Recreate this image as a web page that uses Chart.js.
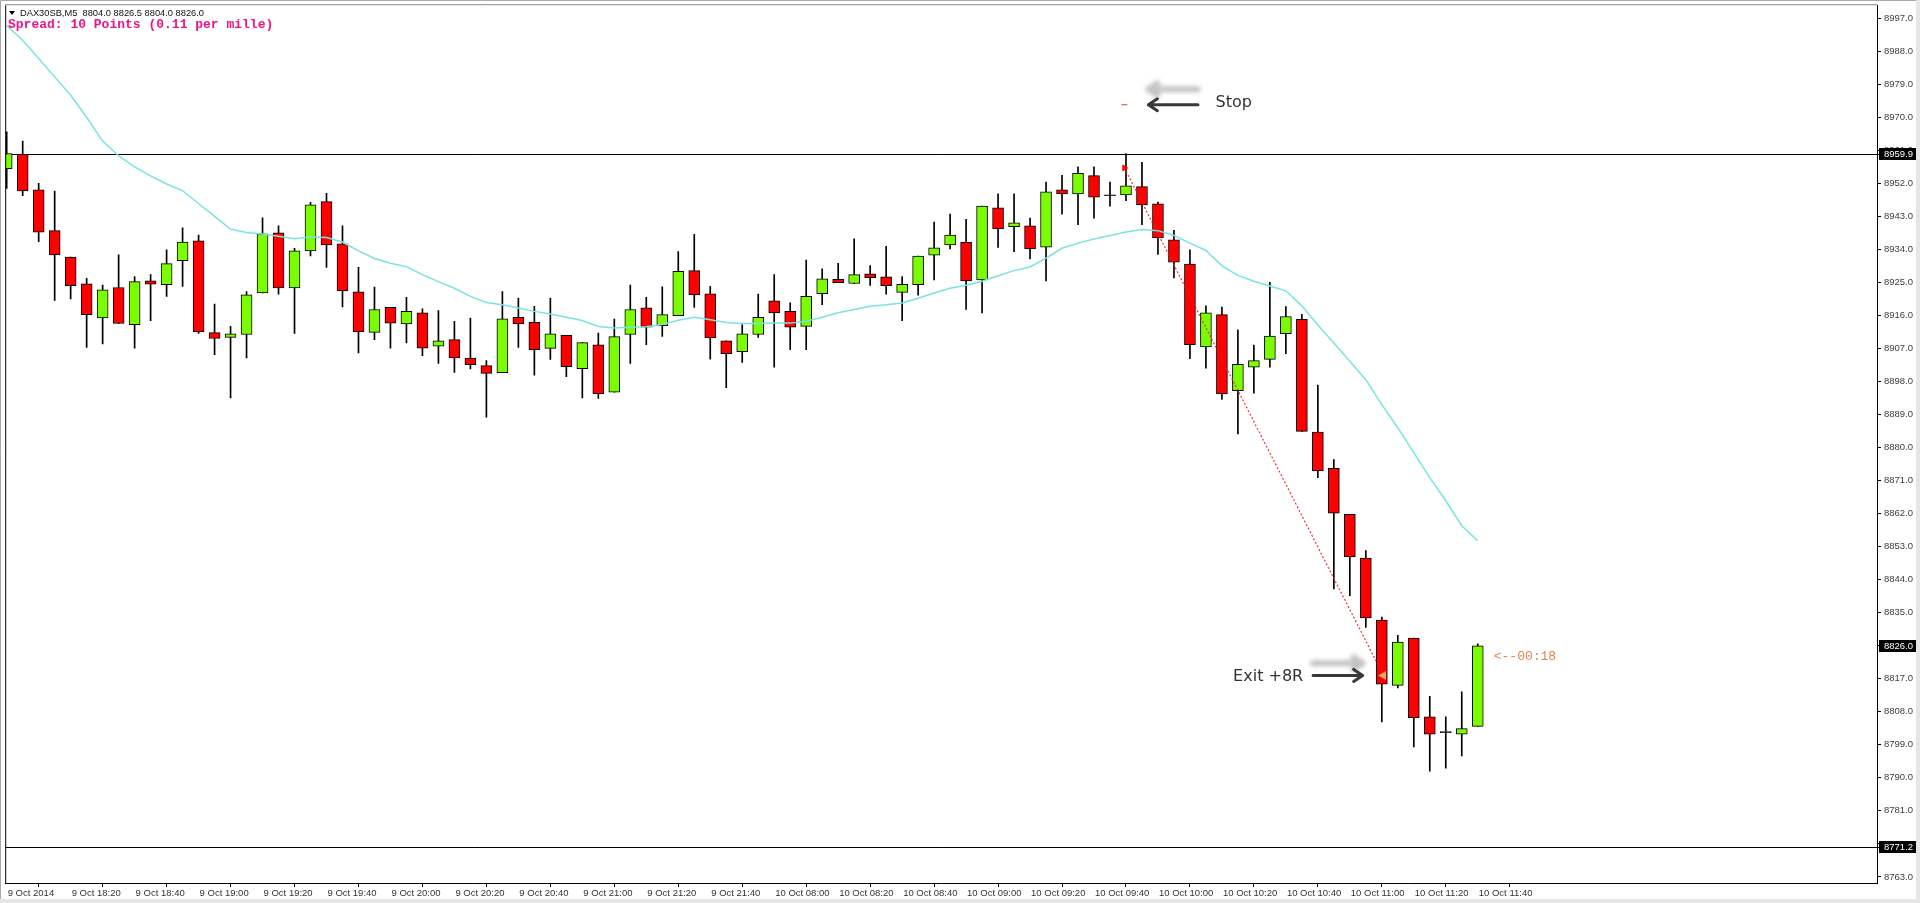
<!DOCTYPE html>
<html>
<head>
<meta charset="utf-8">
<title>DAX30SB,M5</title>
<script src="https://cdn.jsdelivr.net/npm/chart.js@4.4.1/dist/chart.umd.min.js"></script>
<style>
  html, body { margin: 0; padding: 0; background: #fff; overflow: hidden; }
  canvas { display: block; }
</style>
</head>
<body>
<canvas id="chart" width="1920" height="903"></canvas>
<script>
// DAX30SB M5 candles, 9 Oct 18:00 -> 10 Oct 11:40
const opens = [8956.0, 8959.9, 8950.2, 8939.1, 8931.9, 8924.6, 8915.3, 8923.6, 8913.5, 8925.4,
  8924.4, 8930.9, 8936.3, 8911.3, 8910.0, 8910.8, 8922.1, 8938.5, 8923.5, 8933.6,
  8947.0, 8935.5, 8922.4, 8911.4, 8918.2, 8913.7, 8916.7, 8907.6, 8909.4, 8904.4,
  8902.3, 8900.4, 8915.5, 8914.1, 8907.0, 8910.6, 8901.5, 8908.0, 8895.1, 8910.8,
  8918.1, 8913.2, 8915.9, 8928.2, 8921.9, 8909.1, 8906.1, 8910.8, 8920.0, 8917.1,
  8913.0, 8921.9, 8925.8, 8924.7, 8927.3, 8926.5, 8922.3, 8924.4, 8932.4, 8935.2,
  8935.9, 8925.7, 8945.3, 8940.2, 8940.4, 8934.6, 8950.2, 8949.1, 8954.1, 8948.6,
  8948.8, 8951.1, 8946.4, 8936.6, 8930.0, 8907.4, 8916.2, 8895.5, 8901.9, 8904.0,
  8911.0, 8914.9, 8884.2, 8874.3, 8861.8, 8849.9, 8833.0, 8815.2, 8828.1, 8806.6,
  8802.3, 8801.9, 8804.0];
const highs = [8966.0, 8963.5, 8952.0, 8949.9, 8931.9, 8926.1, 8924.3, 8932.5, 8926.6, 8927.1,
  8933.9, 8939.9, 8937.9, 8919.1, 8913.0, 8922.5, 8942.6, 8940.4, 8934.3, 8946.8,
  8949.3, 8940.4, 8929.1, 8923.7, 8918.2, 8920.9, 8917.8, 8917.3, 8914.4, 8915.3,
  8903.7, 8922.5, 8920.7, 8918.5, 8920.7, 8910.6, 8908.6, 8911.2, 8915.0, 8924.3,
  8920.9, 8923.8, 8933.4, 8938.1, 8923.9, 8909.1, 8913.5, 8921.8, 8927.1, 8919.4,
  8931.1, 8928.7, 8930.2, 8936.9, 8929.6, 8934.8, 8926.6, 8932.2, 8941.4, 8943.6,
  8942.2, 8945.8, 8949.1, 8949.1, 8942.5, 8952.3, 8954.2, 8956.5, 8956.5, 8952.3,
  8960.1, 8957.7, 8946.9, 8939.2, 8933.9, 8918.6, 8918.3, 8912.1, 8907.9, 8925.0,
  8918.4, 8916.3, 8897.0, 8876.7, 8861.8, 8851.9, 8833.8, 8828.8, 8828.1, 8812.2,
  8806.6, 8813.4, 8826.5];
const lows = [8950.6, 8948.6, 8936.1, 8920.1, 8920.5, 8907.3, 8908.2, 8913.8, 8907.1, 8914.6,
  8921.2, 8923.9, 8911.1, 8905.3, 8893.5, 8904.4, 8922.1, 8921.8, 8911.1, 8932.2,
  8929.1, 8918.3, 8905.8, 8909.4, 8907.1, 8908.5, 8905.0, 8902.9, 8900.5, 8901.4,
  8888.3, 8900.4, 8907.3, 8899.7, 8904.0, 8899.3, 8893.5, 8893.4, 8895.1, 8902.9,
  8908.0, 8910.3, 8915.9, 8918.2, 8904.1, 8896.3, 8903.2, 8910.0, 8901.9, 8906.7,
  8906.7, 8918.9, 8924.9, 8924.7, 8924.2, 8921.8, 8914.6, 8921.5, 8925.7, 8934.1,
  8917.6, 8916.7, 8934.5, 8933.4, 8931.4, 8925.4, 8943.6, 8940.7, 8942.5, 8945.8,
  8947.3, 8940.7, 8932.6, 8926.2, 8904.2, 8901.6, 8893.1, 8883.7, 8894.8, 8901.9,
  8905.6, 8884.4, 8871.8, 8841.5, 8839.6, 8831.0, 8805.2, 8814.5, 8798.4, 8791.8,
  8792.6, 8796.0, 8804.0];
const closes = [8960.1, 8949.9, 8938.7, 8932.5, 8924.1, 8916.2, 8923.0, 8913.8, 8925.2, 8924.5,
  8930.1, 8936.0, 8911.5, 8909.7, 8911.0, 8921.6, 8938.2, 8923.5, 8933.6, 8946.1,
  8935.2, 8922.7, 8911.5, 8917.6, 8913.9, 8917.1, 8907.1, 8909.1, 8904.4, 8902.6,
  8900.2, 8915.1, 8913.7, 8906.7, 8911.0, 8902.0, 8908.6, 8894.7, 8910.2, 8917.6,
  8912.8, 8916.2, 8928.0, 8921.6, 8909.9, 8905.6, 8911.0, 8915.5, 8916.7, 8912.8,
  8921.2, 8926.0, 8924.9, 8927.1, 8926.3, 8924.1, 8924.5, 8932.2, 8934.4, 8937.9,
  8925.4, 8945.8, 8939.6, 8941.2, 8934.1, 8949.7, 8949.1, 8954.7, 8948.2, 8948.6,
  8951.3, 8946.1, 8937.1, 8930.5, 8908.0, 8916.7, 8894.6, 8902.7, 8903.7, 8910.4,
  8915.7, 8884.4, 8873.6, 8862.1, 8850.2, 8833.6, 8815.5, 8827.0, 8806.4, 8801.9,
  8802.3, 8803.4, 8826.0];
// moving average (cyan line)
const ma = [8995.0, 8991.0, 8986.0, 8981.0, 8976.0, 8970.0, 8963.5, 8959.5, 8956.5, 8954.0,
  8951.8, 8950.0, 8946.5, 8943.0, 8939.5, 8938.6, 8938.2, 8937.6, 8936.9, 8937.4,
  8937.2, 8936.0, 8933.6, 8931.5, 8930.2, 8929.3, 8927.1, 8925.2, 8923.4, 8921.2,
  8919.5, 8918.9, 8918.0, 8917.1, 8916.4, 8915.5, 8914.6, 8913.0, 8912.6, 8912.8,
  8912.9, 8913.5, 8914.7, 8915.5, 8914.8, 8914.1, 8913.8, 8913.8, 8913.9, 8913.9,
  8914.4, 8915.5, 8916.7, 8917.6, 8918.5, 8918.9, 8919.4, 8920.7, 8922.1, 8923.4,
  8924.2, 8925.3, 8926.8, 8928.2, 8929.2, 8931.6, 8934.3, 8935.7, 8936.8, 8937.8,
  8938.7, 8939.4, 8939.1, 8937.8, 8935.7, 8933.7, 8929.5, 8926.9, 8925.3, 8924.0,
  8922.7, 8918.6, 8913.4, 8908.5, 8903.5, 8898.5, 8891.7, 8885.4, 8878.6, 8871.8,
  8865.5, 8858.7, 8854.6];

// trade: entry / exit (bar position, price) and stop level
const tradeX = [69.9, 86.1];
const tradeY = [8956.2, 8817.9];
const stopX = [69.9];
const stopY = [8973.4];

// axis ticks
const xTickPos = [0, 4, 8, 12, 16, 20, 24, 28, 32, 36, 40, 44, 48, 52, 56, 60, 64, 68, 72, 76, 80, 84, 88, 92];
const xLabels = ['9 Oct 2014', '9 Oct 18:20', '9 Oct 18:40', '9 Oct 19:00', '9 Oct 19:20', '9 Oct 19:40',
  '9 Oct 20:00', '9 Oct 20:20', '9 Oct 20:40', '9 Oct 21:00', '9 Oct 21:20', '9 Oct 21:40',
  '10 Oct 08:00', '10 Oct 08:20', '10 Oct 08:40', '10 Oct 09:00', '10 Oct 09:20', '10 Oct 09:40',
  '10 Oct 10:00', '10 Oct 10:20', '10 Oct 10:40', '10 Oct 11:00', '10 Oct 11:20', '10 Oct 11:40'];
const yTicks = [8763, 8772, 8781, 8790, 8799, 8808, 8817, 8826, 8835, 8844, 8853, 8862, 8871, 8880,
  8889, 8898, 8907, 8916, 8925, 8934, 8943, 8952, 8961, 8970, 8979, 8988, 8997];
const hLines = [8959.9, 8771.2];
const lastPrice = 8826.0;

const GREEN = '#7cfc00', RED = '#ff0000';

const X_MIN = -0.09375;
const X_MAX = X_MIN + 1873 / 16;

const bodies = opens.map((o, i) => ({ x: i, y: [o, closes[i]] }));
const wicks = lows.map((l, i) => ({ x: i, y: [l, highs[i]] }));

function bodyColor(ctx) {
  const i = ctx.dataIndex;
  if (closes[i] > opens[i]) return GREEN;
  if (closes[i] < opens[i]) return RED;
  return '#000';
}

// no extra room for first/last tick labels, keep the plot box fixed
function noPad(s) {
  s.paddingTop = 0; s.paddingBottom = 0; s.paddingLeft = 0; s.paddingRight = 0;
}

// arrow helper
function arrow(ctx, x1, x2, y, color, w) {
  const dir = x2 > x1 ? 1 : -1;
  ctx.save();
  ctx.strokeStyle = color;
  ctx.lineWidth = w;
  ctx.lineCap = 'round';
  ctx.lineJoin = 'round';
  ctx.beginPath();
  ctx.moveTo(x1, y);
  ctx.lineTo(x2, y);
  ctx.moveTo(x2 - dir * 9, y - 6);
  ctx.lineTo(x2, y);
  ctx.lineTo(x2 - dir * 9, y + 6);
  ctx.stroke();
  ctx.restore();
}

const mt4Plugin = {
  id: 'mt4',
  beforeDatasetsDraw(chart) {
    const { ctx, chartArea, scales } = chart;
    ctx.save();
    ctx.strokeStyle = '#000';
    ctx.lineWidth = 1;
    hLines.forEach(p => {
      const y = Math.round(scales.y.getPixelForValue(p)) + 0.5;
      ctx.beginPath();
      ctx.moveTo(chartArea.left, y);
      ctx.lineTo(chartArea.right + 4, y);
      ctx.stroke();
    });
    ctx.restore();
  },
  afterDraw(chart) {
    const { ctx, chartArea, scales } = chart;
    const xs = scales.x, ys = scales.y;
    ctx.save();

    // plot frame (left / top)
    ctx.strokeStyle = '#000';
    ctx.lineWidth = 1;
    ctx.beginPath();
    ctx.moveTo(chartArea.left + 0.5, chartArea.bottom);
    ctx.lineTo(chartArea.left + 0.5, chartArea.top);
    ctx.stroke();
    ctx.strokeStyle = '#8a8a8a';
    ctx.beginPath();
    ctx.moveTo(chartArea.left, chartArea.top - 0.5);
    ctx.lineTo(chartArea.right, chartArea.top - 0.5);
    ctx.stroke();

    // window border
    ctx.strokeStyle = '#a9a9a9';
    ctx.beginPath();
    ctx.moveTo(0.5, 903); ctx.lineTo(0.5, 0.5); ctx.lineTo(1920, 0.5);
    ctx.stroke();
    ctx.strokeStyle = '#e6e6e6';
    ctx.lineWidth = 4;
    ctx.beginPath();
    ctx.moveTo(1918, 0); ctx.lineTo(1918, 901); ctx.lineTo(0, 901);
    ctx.stroke();

    // header
    ctx.fillStyle = '#000';
    ctx.beginPath();
    ctx.moveTo(9, 11); ctx.lineTo(15, 11); ctx.lineTo(12, 15); ctx.closePath();
    ctx.fill();
    ctx.font = '9.3px "Liberation Sans"';
    ctx.textBaseline = 'middle';
    ctx.textAlign = 'left';
    ctx.fillStyle = '#111';
    ctx.fillText('DAX30SB,M5  8804.0 8826.5 8804.0 8826.0', 20, 13);
    ctx.font = 'bold 13px "Liberation Mono"';
    ctx.fillStyle = '#e8168a';
    ctx.fillText('Spread: 10 Points (0.11 per mille)', 8, 25);

    // stop annotation
    const sx1 = xs.getPixelForValue(74.5), sx2 = xs.getPixelForValue(71.4);
    ctx.save();
    ctx.filter = 'blur(2px)';
    arrow(ctx, sx1, sx2, ys.getPixelForValue(8977.6), 'rgba(175,175,175,0.75)', 6);
    ctx.restore();
    arrow(ctx, sx1, sx2, ys.getPixelForValue(8973.4), '#383838', 3);
    ctx.font = '16px "DejaVu Sans"';
    ctx.fillStyle = '#333';
    ctx.textBaseline = 'middle';
    ctx.fillText('Stop', xs.getPixelForValue(75.6), ys.getPixelForValue(8974.0));

    // exit annotation
    const ex1 = xs.getPixelForValue(81.7), ex2 = xs.getPixelForValue(84.8);
    ctx.save();
    ctx.filter = 'blur(2px)';
    arrow(ctx, ex1, ex2, ys.getPixelForValue(8821.2), 'rgba(175,175,175,0.75)', 6);
    ctx.restore();
    arrow(ctx, ex1, ex2, ys.getPixelForValue(8817.9), '#383838', 3);
    ctx.fillStyle = '#333';
    ctx.fillText('Exit +8R', xs.getPixelForValue(76.7), ys.getPixelForValue(8817.4));

    // candle timer
    ctx.font = '13px "Liberation Mono"';
    ctx.fillStyle = '#e0824e';
    ctx.fillText('<--00:18', xs.getPixelForValue(93.0), ys.getPixelForValue(8823.1));

    // price boxes on the axis
    ctx.font = '9.5px "Liberation Sans"';
    [hLines[0], lastPrice, hLines[1]].forEach(p => {
      const y = Math.round(ys.getPixelForValue(p));
      ctx.fillStyle = '#000';
      ctx.fillRect(1879, y - 6, 37, 12);
      ctx.fillStyle = '#fff';
      ctx.fillText(p.toFixed(1), 1884, y + 0.5);
    });
    ctx.restore();
  }
};

Chart.defaults.font.family = '"Liberation Sans", sans-serif';

new Chart(document.getElementById('chart'), {
  type: 'bar',
  data: {
    datasets: [
      {
        type: 'line',
        data: tradeX.map((x, i) => ({ x, y: tradeY[i] })),
        borderColor: 'rgba(235,30,30,0.9)',
        borderWidth: 1.2,
        borderDash: [2, 2],
        pointStyle: 'triangle',
        pointRotation: [90, -90],
        pointRadius: [3, 4],
        pointBackgroundColor: ['#ff0000', '#f4a460'],
        pointBorderColor: ['#ff0000', '#f4a460'],
        order: 0
      },
      {
        type: 'line',
        data: stopX.map((x, i) => ({ x, y: stopY[i] })),
        showLine: false,
        pointStyle: 'line',
        pointRadius: 3,
        pointBorderColor: '#ff3030',
        pointBorderWidth: 1,
        order: 0
      },
      {
        type: 'line',
        data: ma.map((v, i) => ({ x: i, y: v })),
        borderColor: '#79e3e3',
        borderWidth: 1.5,
        pointRadius: 0,
        tension: 0,
        order: 1
      },
      {
        data: bodies,
        backgroundColor: bodyColor,
        borderColor: '#000',
        borderWidth: 1,
        borderSkipped: false,
        barThickness: 11,
        minBarLength: 1,
        grouped: false,
        order: 2
      },
      {
        data: wicks,
        backgroundColor: '#000',
        borderWidth: 0,
        barThickness: 1,
        grouped: false,
        order: 3
      }
    ]
  },
  options: {
    responsive: false,
    animation: false,
    devicePixelRatio: 1,
    layout: { padding: { left: 4, top: 3, right: 0, bottom: 0 } },
    plugins: { legend: { display: false }, tooltip: { enabled: false } },
    scales: {
      x: {
        type: 'linear',
        min: X_MIN,
        max: X_MAX,
        offset: false,
        afterFit: s => { s.height = 20; noPad(s); },
        afterBuildTicks: s => { s.ticks = xTickPos.map(v => ({ value: v })); },
        grid: { display: true, drawOnChartArea: false, drawTicks: true, tickLength: 4, color: '#000' },
        border: { display: true, color: '#000' },
        ticks: {
          autoSkip: false,
          maxRotation: 0,
          align: 'start',
          labelOffset: 1,
          padding: 1,
          color: '#333',
          font: { size: 9.5 },
          callback: (v, i) => xLabels[i]
        }
      },
      y: {
        position: 'right',
        min: 8761.34,
        max: 9000.53,
        afterFit: s => { s.width = 43; noPad(s); },
        afterBuildTicks: s => { s.ticks = yTicks.map(v => ({ value: v })); },
        grid: { display: true, drawOnChartArea: false, drawTicks: true, tickLength: 4, color: '#000' },
        border: { display: true, color: '#000' },
        ticks: {
          autoSkip: false,
          padding: 3,
          color: '#3c3c3c',
          font: { size: 9.5 },
          callback: v => Number(v).toFixed(1)
        }
      }
    }
  },
  plugins: [mt4Plugin]
});
</script>
</body>
</html>
